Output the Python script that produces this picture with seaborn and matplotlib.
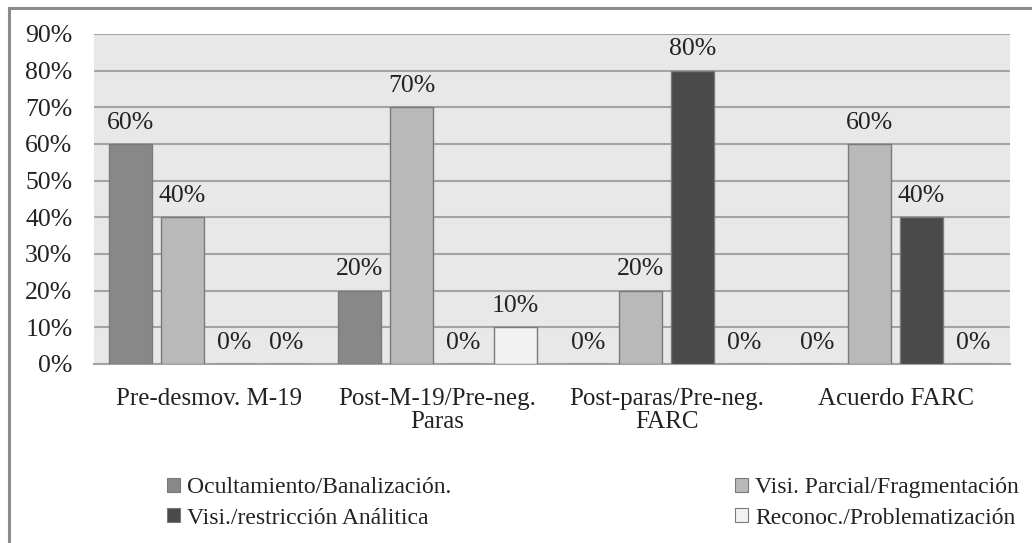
import matplotlib
matplotlib.use("Agg")
import matplotlib.pyplot as plt
import matplotlib.patches as mpatches
import seaborn as sns
import pandas as pd

periods = ["Pre-desmov. M-19", "Post-M-19/Pre-neg.\nParas",
           "Post-paras/Pre-neg.\nFARC", "Acuerdo FARC"]
series = ["Ocultamiento/Banalización.", "Visi. Parcial/Fragmentación",
          "Visi./restricción Análitica", "Reconoc./Problematización"]
ocultamiento = [0.60, 0.20, 0.00, 0.00]
visi_parcial = [0.40, 0.70, 0.20, 0.60]
visi_restriccion = [0.00, 0.00, 0.80, 0.40]
reconocimiento = [0.00, 0.10, 0.00, 0.00]
y_ticks = [0.0, 0.1, 0.2, 0.3, 0.4, 0.5, 0.6, 0.7, 0.8, 0.9]

colors = ["#888888", "#b9b9b9", "#4a4a4a", "#f2f2f2"]

rows = []
for name, vals in zip(series, [ocultamiento, visi_parcial, visi_restriccion, reconocimiento]):
    for p, v in zip(periods, vals):
        rows.append({"periodo": p, "serie": name, "valor": v})
df = pd.DataFrame(rows)

sns.set_theme(style="white")
plt.rcParams["font.family"] = ["Liberation Serif", "DejaVu Serif"]

fig = plt.figure(figsize=(10.32, 5.43), dpi=100)
ax = fig.add_axes([94 / 1032, 1 - 364 / 543, (1010 - 94) / 1032, (364 - 34) / 543])

# outer chart frame
fig.patches.append(mpatches.Rectangle((9 / 1032, -0.05), 1.1, 1 - 8 / 543 + 0.05,
                                      transform=fig.transFigure, fill=False,
                                      edgecolor="#8c8c8c", linewidth=2.2, zorder=0))

ax.set_facecolor("#e8e8e8")
sns.barplot(data=df, x="periodo", y="valor", hue="serie", order=periods,
            hue_order=series, palette=colors, width=0.908, gap=0.19,
            edgecolor="#7a7a7a", linewidth=1.0, saturation=1, ax=ax,
            legend=False, zorder=3)

ax.set_ylim(0, 0.9)
ax.set_yticks(y_ticks)
ax.set_yticklabels([f"{int(round(t * 100))}%" for t in y_ticks])
ax.yaxis.grid(True, color="#a3a3a3", linewidth=1.5, zorder=1)
ax.set_axisbelow(True)
for s in ["left", "bottom", "right", "top"]:
    ax.spines[s].set_visible(False)
ax.spines["bottom"].set_visible(True)
ax.spines["bottom"].set_color("#a3a3a3")
ax.spines["bottom"].set_linewidth(1.5)
ax.tick_params(axis="y", length=0, pad=15.5, labelsize=18.5, colors="#222222")
ax.tick_params(axis="x", length=0, pad=17, labelsize=18, colors="#222222")
for lab in ax.get_xticklabels():
    lab.set_linespacing(1.1)
ax.set_xlabel("")
ax.set_ylabel("")

for cont in ax.containers:
    labels = [f"{int(round(b.get_height() * 100))}%" for b in cont]
    ax.bar_label(cont, labels=labels, padding=7.5, fontsize=18.5, color="#222222")

handles = [mpatches.Patch(facecolor=c, edgecolor="#7a7a7a", linewidth=0.8) for c in colors]
order = [0, 2, 1, 3]
fig.legend([handles[i] for i in order], [series[i] for i in order],
           ncol=2, loc="center left", bbox_to_anchor=(146 / 1032, 1 - 503 / 543),
           frameon=False, fontsize=17, handlelength=0.55, handleheight=0.55,
           handletextpad=0.3, columnspacing=12.0, labelspacing=0.4,
           labelcolor="#222222")

fig.savefig("out.png", dpi=100)
